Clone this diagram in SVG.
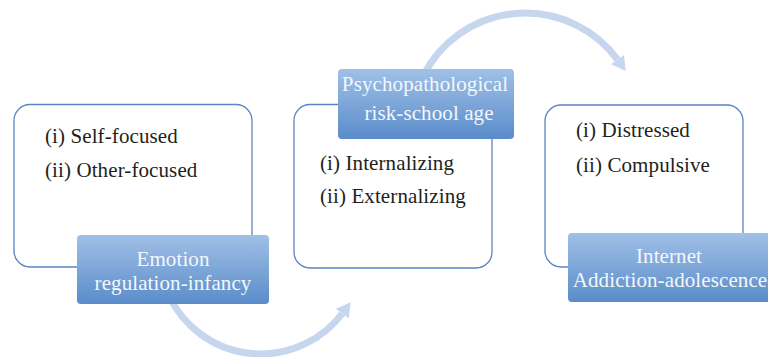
<svg xmlns="http://www.w3.org/2000/svg" width="768" height="357" viewBox="0 0 768 357">
  <defs>
    <linearGradient id="lg" x1="0" y1="0" x2="0" y2="1">
      <stop offset="0" stop-color="#a0c0e6"/>
      <stop offset="1" stop-color="#5a8cca"/>
    </linearGradient>
    <style>
      .box { fill: #ffffff; stroke: #5a84c2; stroke-width: 1.3; }
      .lbl { fill: url(#lg); }
      .arc { fill: none; stroke: #c6d6ef; stroke-width: 7; }
      .head { fill: #c6d6ef; }
      .t { font-family: "Liberation Serif", "Times New Roman", serif; font-size: 21px; letter-spacing: 0.1px; fill: #231f20; }
      .w { font-family: "Liberation Serif", "Times New Roman", serif; font-size: 21px; letter-spacing: 0.1px; fill: #f4f7fb; text-anchor: middle; }
    </style>
  </defs>
  <rect width="768" height="357" fill="#ffffff"/>
  <g id="connectors">
    <path class="arc" d="M 170 298 A 102 102 0 0 0 342.3 313.5"/>
    <polygon class="head" points="335.9,308.7 348.7,318.3 350.7,302.3"/>
    <path class="arc" d="M 423.6 75 A 114.5 114.5 0 0 1 617.5 59.6"/>
    <polygon class="head" points="624,54.9 611,64.3 625.7,70.9"/>
  </g>
  <g id="node1">
    <rect class="box" x="14" y="104.5" width="238" height="162.5" rx="16"/>
    <text class="t" x="45" y="142.5">(i) Self-focused</text>
    <text class="t" x="45" y="177">(ii) Other-focused</text>
    <rect class="lbl" x="77" y="235" width="192" height="69" rx="4"/>
    <text class="w" x="173" y="266">Emotion</text>
    <text class="w" x="173" y="290">regulation-infancy</text>
  </g>
  <g id="node2">
    <rect class="box" x="294" y="104.5" width="198" height="163.5" rx="16"/>
    <text class="t" x="320" y="170">(i) Internalizing</text>
    <text class="t" x="320" y="203">(ii) Externalizing</text>
    <rect class="lbl" x="338" y="69" width="176" height="70" rx="4"/>
    <text class="w" x="425" y="90.5">Psychopathological</text>
    <text class="w" x="429" y="120">risk-school age</text>
  </g>
  <g id="node3">
    <rect class="box" x="545" y="105" width="198" height="162" rx="16"/>
    <text class="t" x="576" y="137">(i) Distressed</text>
    <text class="t" x="576" y="172">(ii) Compulsive</text>
    <rect class="lbl" x="568" y="233" width="210" height="69" rx="4"/>
    <text class="w" x="669" y="263">Internet</text>
    <text class="w" x="670" y="287">Addiction-adolescence</text>
  </g>
</svg>
